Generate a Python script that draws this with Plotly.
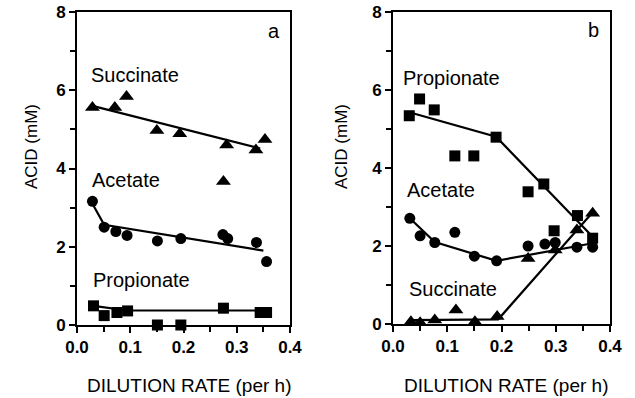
import plotly.graph_objects as go

# ---------------- data ----------------
# Panel a
a_succ_x = [0.029, 0.071, 0.093, 0.150, 0.193, 0.275, 0.281, 0.336, 0.353]
a_succ_y = [5.56, 5.56, 5.84, 4.97, 4.89, 3.67, 4.60, 4.47, 4.74]
a_succ_fit_x = [0.029, 0.344]
a_succ_fit_y = [5.60, 4.51]

a_acet_x = [0.029, 0.051, 0.073, 0.094, 0.151, 0.195, 0.274, 0.283, 0.337, 0.356]
a_acet_y = [3.16, 2.50, 2.39, 2.29, 2.15, 2.21, 2.31, 2.21, 2.11, 1.62]
a_acet_fit_x = [0.029, 0.051, 0.350]
a_acet_fit_y = [3.10, 2.56, 1.90]

a_prop_x = [0.031, 0.051, 0.075, 0.095, 0.151, 0.195, 0.275, 0.344, 0.356]
a_prop_y = [0.49, 0.24, 0.32, 0.36, 0.0, 0.0, 0.43, 0.32, 0.32]
a_prop_fit_x = [0.031, 0.095, 0.356]
a_prop_fit_y = [0.49, 0.37, 0.37]

# Panel b
b_prop_x = [0.030, 0.049, 0.076, 0.114, 0.149, 0.190, 0.249, 0.278, 0.297, 0.340, 0.368]
b_prop_y = [5.34, 5.77, 5.49, 4.31, 4.31, 4.79, 3.39, 3.59, 2.39, 2.78, 2.20]
b_prop_fit_x = [0.030, 0.190, 0.368]
b_prop_fit_y = [5.43, 4.80, 2.24]

b_acet_x = [0.031, 0.050, 0.077, 0.114, 0.150, 0.191, 0.249, 0.280, 0.299, 0.339, 0.368]
b_acet_y = [2.71, 2.26, 2.09, 2.35, 1.74, 1.62, 2.00, 2.05, 2.09, 1.97, 1.97]
b_acet_fit_x = [0.031, 0.077, 0.191, 0.368]
b_acet_fit_y = [2.71, 2.10, 1.62, 2.07]

b_succ_x = [0.033, 0.050, 0.077, 0.116, 0.151, 0.192, 0.249, 0.299, 0.339, 0.368]
b_succ_y = [0.06, 0.03, 0.10, 0.36, 0.06, 0.19, 1.68, 1.90, 2.41, 2.84]
b_succ_fit_x = [0.030, 0.194, 0.369]
b_succ_fit_y = [0.10, 0.12, 2.88]

x_ticks = [0.0, 0.1, 0.2, 0.3, 0.4]
x_tick_labels = ["0.0", "0.1", "0.2", "0.3", "0.4"]
y_ticks = [0, 2, 4, 6, 8]

# ---------------- figure ----------------
W, H = 635, 398
FONT = "Liberation Sans, Arial, sans-serif"


def px(x):
    return x / W


def py(y):
    return 1 - y / H


fig = go.Figure()

line_style = dict(color="black", width=2.2)


def add_series(xs, ys, fx, fy, symbol, size, xa, ya):
    fig.add_trace(go.Scatter(x=fx, y=fy, mode="lines", line=line_style,
                             xaxis=xa, yaxis=ya, showlegend=False, hoverinfo="skip"))
    fig.add_trace(go.Scatter(x=xs, y=ys, mode="markers",
                             marker=dict(symbol=symbol, size=size, color="black",
                                         line=dict(width=0)),
                             xaxis=xa, yaxis=ya, showlegend=False, cliponaxis=False))


add_series(a_succ_x, a_succ_y, a_succ_fit_x, a_succ_fit_y, "triangle-up", 13, "x", "y")
add_series(a_acet_x, a_acet_y, a_acet_fit_x, a_acet_fit_y, "circle", 11, "x", "y")
add_series(a_prop_x, a_prop_y, a_prop_fit_x, a_prop_fit_y, "square", 11, "x", "y")

add_series(b_prop_x, b_prop_y, b_prop_fit_x, b_prop_fit_y, "square", 11, "x2", "y2")
add_series(b_acet_x, b_acet_y, b_acet_fit_x, b_acet_fit_y, "circle", 11, "x2", "y2")
add_series(b_succ_x, b_succ_y, b_succ_fit_x, b_succ_fit_y, "triangle-up", 13, "x2", "y2")

tickfont = dict(family=FONT, size=17, color="black", weight="bold")

xax = dict(range=[0, 0.4], tickvals=x_ticks, ticktext=x_tick_labels, automargin=False,
           showline=True, linecolor="black", linewidth=2, mirror=True,
           ticks="outside", ticklen=6, tickwidth=2, tickcolor="black",
           minor=dict(ticks="outside", ticklen=5, tickwidth=2, tickcolor="black", dtick=0.05),
           showgrid=False, zeroline=False, tickfont=tickfont, fixedrange=True)
yax = dict(range=[0, 8], tickvals=y_ticks, automargin=False,
           showline=True, linecolor="black", linewidth=2, mirror=True,
           ticks="outside", ticklen=6, tickwidth=2, tickcolor="black",
           minor=dict(ticks="outside", ticklen=5, tickwidth=2, tickcolor="black", dtick=1),
           showgrid=False, zeroline=False, tickfont=tickfont, fixedrange=True)

fig.update_layout(
    width=W, height=H,
    margin=dict(l=0, r=0, t=0, b=0, autoexpand=False),
    paper_bgcolor="white", plot_bgcolor="white",
    xaxis=dict(xax, domain=[px(77), px(290)], anchor="y"),
    yaxis=dict(yax, domain=[py(325), py(12)], anchor="x"),
    xaxis2=dict(xax, domain=[px(393), px(610)], anchor="y2"),
    yaxis2=dict(yax, domain=[py(324), py(12)], anchor="x2"),
    font=dict(family=FONT, color="black"),
)

labfont = dict(family=FONT, size=20, color="black")
annots = [
    ("Succinate", 89, 75, "left", labfont),
    ("Acetate", 90, 180, "left", labfont),
    ("Propionate", 91, 280, "left", labfont),
    ("a", 274, 31, "center", labfont),
    ("Propionate", 401, 78, "left", labfont),
    ("Acetate", 405, 190, "left", labfont),
    ("Succinate", 407, 289, "left", labfont),
    ("b", 593, 30, "center", labfont),
]
for t, x, y, anc, f in annots:
    fig.add_annotation(text=t, x=px(x), y=py(y), xref="paper", yref="paper",
                       xanchor=anc, yanchor="middle", showarrow=False, font=f)

xtitlefont = dict(family=FONT, size=19, color="black")
ytitlefont = dict(family=FONT, size=17, color="black")
for cx in (189, 506):
    fig.add_annotation(text="DILUTION RATE (per h)", x=px(cx), y=py(385), xref="paper", yref="paper",
                       xanchor="center", yanchor="middle", showarrow=False, font=xtitlefont)
for cx in (31, 341):
    fig.add_annotation(text="ACID (mM)", x=px(cx), y=py(147), xref="paper", yref="paper",
                       xanchor="center", yanchor="middle", showarrow=False, textangle=-90,
                       font=ytitlefont)

fig.write_html("out.html", config={"displayModeBar": False},
               post_script="document.body.style.margin='0';document.body.style.padding='0';")
